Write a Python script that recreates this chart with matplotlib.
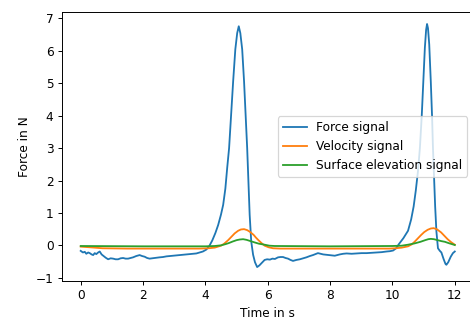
import matplotlib
matplotlib.use("Agg")
import matplotlib.pyplot as plt

# Force signal (time in s, force in N)
force_t = [
    0.00, 0.07, 0.13, 0.18, 0.24, 0.29, 0.35, 0.40, 0.45, 0.50, 0.56, 0.61,
    0.67, 0.72, 0.80, 0.88, 0.96, 1.04, 1.12, 1.20, 1.28, 1.36, 1.44, 1.52,
    1.60, 1.68, 1.78, 1.89, 1.97, 2.05, 2.13, 2.21, 2.29, 2.37, 2.45, 2.53,
    2.64, 2.75, 2.86, 2.96, 3.07, 3.18, 3.29, 3.39, 3.50, 3.60, 3.71, 3.82,
    3.92, 4.03, 4.12, 4.22, 4.32, 4.41, 4.50, 4.57, 4.64, 4.70, 4.76, 4.82,
    4.89, 4.96, 5.02, 5.07, 5.12, 5.18, 5.24, 5.29, 5.34, 5.38, 5.42, 5.47,
    5.53, 5.59, 5.66, 5.73, 5.80, 5.90, 5.98, 6.07, 6.15, 6.23, 6.33, 6.41,
    6.49, 6.57, 6.65, 6.73, 6.81, 6.92, 7.03, 7.14, 7.24, 7.35, 7.45, 7.53,
    7.61, 7.70, 7.78, 7.88, 7.99, 8.07, 8.15, 8.23, 8.31, 8.42, 8.53, 8.69,
    8.85, 9.01, 9.17, 9.33, 9.49, 9.65, 9.81, 9.92, 10.02, 10.12, 10.20,
    10.35, 10.50, 10.60, 10.68, 10.75, 10.82, 10.88, 10.94, 10.99, 11.04,
    11.08, 11.11, 11.14, 11.18, 11.23, 11.27, 11.30, 11.34, 11.37, 11.41,
    11.46, 11.52, 11.57, 11.64, 11.70, 11.73, 11.79, 11.87, 11.94, 12.00,
]
force_v = [
    -0.17, -0.22, -0.20, -0.26, -0.22, -0.24, -0.28, -0.30, -0.24, -0.27, -0.22, -0.19,
    -0.28, -0.32, -0.38, -0.43, -0.40, -0.41, -0.43, -0.43, -0.40, -0.39, -0.41, -0.41,
    -0.39, -0.37, -0.33, -0.30, -0.33, -0.35, -0.39, -0.41, -0.40, -0.39, -0.38, -0.37,
    -0.36, -0.34, -0.33, -0.32, -0.31, -0.30, -0.29, -0.28, -0.27, -0.26, -0.25, -0.22,
    -0.19, -0.13, -0.03, 0.15, 0.38, 0.63, 0.95, 1.25, 1.75, 2.40, 3.00, 3.95,
    5.06, 6.05, 6.55, 6.76, 6.55, 6.05, 5.06, 4.03, 3.00, 1.97, 0.94, 0.12,
    -0.29, -0.52, -0.67, -0.62, -0.55, -0.45, -0.43, -0.44, -0.41, -0.42, -0.37, -0.36,
    -0.36, -0.39, -0.41, -0.45, -0.48, -0.45, -0.43, -0.40, -0.37, -0.33, -0.30, -0.27,
    -0.24, -0.26, -0.28, -0.29, -0.30, -0.31, -0.32, -0.30, -0.28, -0.26, -0.25, -0.26,
    -0.25, -0.24, -0.24, -0.23, -0.22, -0.21, -0.19, -0.18, -0.16, -0.09, 0.03,
    0.22, 0.45, 0.80, 1.20, 1.70, 2.30, 3.00, 4.00, 5.06, 6.10,
    6.65, 6.83, 6.70, 6.20, 5.06, 4.00, 3.00, 2.00, 1.20, 0.43,
    -0.09, -0.17, -0.22, -0.42, -0.57, -0.60, -0.52, -0.35, -0.24, -0.19,
]

# Velocity signal
vel_t = [
    0.0, 0.3, 0.7, 1.5, 3.0, 3.8, 4.1, 4.3, 4.5, 4.6, 4.73, 4.85, 4.94, 5.05,
    5.14, 5.24, 5.34, 5.44, 5.55, 5.62, 5.69, 5.80, 5.90, 6.03, 6.17, 6.4,
    7.5, 9.0, 9.9, 10.1, 10.3, 10.5, 10.62, 10.71, 10.82, 10.92, 11.02, 11.13,
    11.23, 11.32, 11.42, 11.56, 11.67, 11.77, 11.88, 12.0,
]
vel_v = [
    -0.04, -0.06, -0.09, -0.10, -0.10, -0.10, -0.09, -0.07, -0.01, 0.05, 0.16, 0.28, 0.37, 0.45,
    0.49, 0.50, 0.47, 0.41, 0.32, 0.24, 0.17, 0.07, -0.01, -0.06, -0.09, -0.10,
    -0.10, -0.10, -0.10, -0.09, -0.07, -0.03, 0.03, 0.11, 0.22, 0.32, 0.41, 0.48,
    0.52, 0.53, 0.50, 0.40, 0.29, 0.19, 0.10, 0.02,
]

# Surface elevation signal
elev_t = [
    0.0, 2.0, 4.0, 4.3, 4.5, 4.62, 4.75, 4.88, 5.0, 5.1, 5.21, 5.32, 5.45, 5.58,
    5.72, 5.9, 6.05, 6.22, 8.0, 10.0, 10.3, 10.5, 10.71, 10.9, 11.05, 11.15,
    11.23, 11.33, 11.45, 11.57, 11.68, 11.8, 11.9, 12.0,
]
elev_v = [
    -0.02, -0.03, -0.03, -0.02, 0.00, 0.03, 0.07, 0.12, 0.16, 0.18, 0.19, 0.17, 0.13, 0.09,
    0.05, 0.02, -0.01, -0.02, -0.03, -0.02, -0.01, 0.02, 0.06, 0.11, 0.16, 0.19,
    0.20, 0.19, 0.16, 0.13, 0.11, 0.07, 0.04, 0.01,
]

DPI = 87
fig = plt.figure(figsize=(470 / DPI, 322 / DPI), dpi=DPI)
ax = fig.add_axes([62 / 470, 41 / 322, 411.5 / 470, 269 / 322])

ax.plot(force_t, force_v, label="Force signal")
ax.plot(vel_t, vel_v, label="Velocity signal")
ax.plot(elev_t, elev_v, label="Surface elevation signal")

ax.set_xlim(-0.6, 12.6)
ax.set_ylim(-1.1, 7.2)
ax.set_xticks([0, 2, 4, 6, 8, 10, 12])
ax.set_yticks([-1, 0, 1, 2, 3, 4, 5, 6, 7])
ax.set_xlabel("Time in s")
ax.set_ylabel("Force in N")
ax.legend(loc="center right")

fig.savefig("out.png", dpi=DPI)
